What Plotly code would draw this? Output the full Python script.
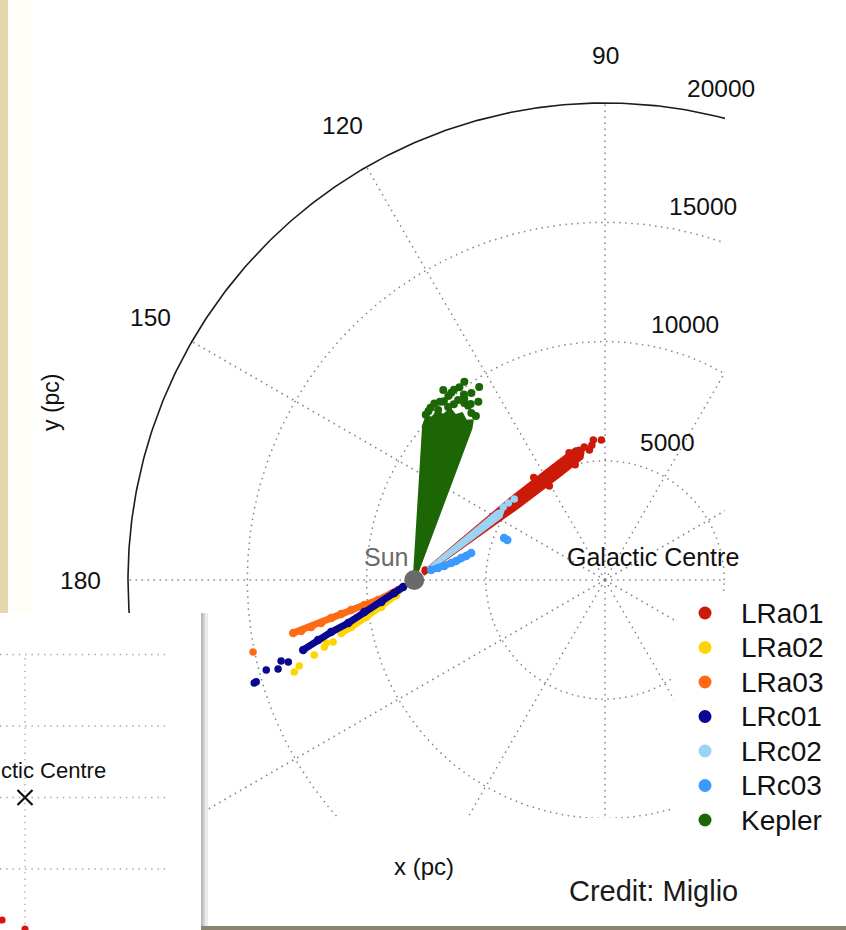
import numpy as np
import plotly.graph_objects as go

# ------------------------------------------------------------------
# Data.  Longitudes in degrees, distances from
# the Sun in kpc.  The frame is centred on the Galactic Centre.
# ------------------------------------------------------------------
R_SUN = 8000.0                      # pc, Sun - Galactic Centre distance
RING_RADII = [5000, 10000, 15000]   # dotted rings (pc)
OUTER_RADIUS = 20000                # solid outer ring (pc)
SPOKE_ANGLES = [0, 30, 60, 90, 120, 150, 180, 210, 240, 270, 300, 330]
ANGLE_LABELS = [90, 120, 150, 180]
RADIAL_LABELS = [5000, 10000, 15000, 20000]

FIELDS = ["LRa01", "LRa02", "LRa03", "LRc01", "LRc02", "LRc03", "Kepler"]
COLORS = ["#CC1A0A", "#FFD500", "#FF6A14", "#07078F", "#9BD3F4", "#3B9AFF", "#1D6606"]

# dense parts drawn as filled outlines
lra01_band_l = [44.0, 40.5, 40.3, 40.2, 39.5, 39.2, 37.6, 36.0, 35.6, 35.0, 34.5, 33.5, 30.0]
lra01_band_d = [0.45, 0.80, 2.50, 5.40, 7.50, 8.70, 8.95, 8.70, 7.50, 5.40, 2.50, 0.80, 0.45]
lrc02_band_l = [39.8, 39.8, 39.5, 38.2, 36.0, 35.2, 34.0]
lrc02_band_d = [0.75, 2.50, 4.50, 4.75, 4.50, 2.50, 0.75]
kepler_band_l = [77.0, 86.5, 85.5, 84.0, 82.0, 80.0, 78.0, 76.0, 74.0, 72.0, 70.0, 69.5, 77.0]
kepler_band_d = [0.0, 6.5, 6.9, 6.8, 7.1, 7.0, 7.3, 7.1, 7.25, 7.0, 7.1, 6.8, 0.0]

# dense thin streaks drawn as thick paths
lra02_path_l = [219.8, 219.3, 217.6, 216.7, 216.0]
lra02_path_d = [0.98, 1.79, 2.54, 3.30, 3.78]
lra03_path_l = [212.0, 211.3, 209.1, 206.6, 205.5, 205.0, 204.6, 204.8, 204.5, 204.3, 203.7]
lra03_path_d = [0.79, 1.13, 1.73, 2.34, 2.93, 3.38, 3.83, 4.30, 4.75, 5.20, 5.54]
lrc01_path_l = [212.5, 213.0, 213.7, 212.6, 213.1, 212.1, 212.0, 212.2]
lrc01_path_d = [0.55, 1.00, 1.66, 2.49, 3.30, 4.11, 4.75, 5.50]
lrc03_path_l = [30.5, 26.6, 25.0, 24.7, 24.3, 25.1, 24.8, 25.3]
lrc03_path_d = [0.83, 1.12, 1.39, 1.71, 1.93, 2.18, 2.40, 2.64]

# individual stars
lra01_pts_l = [36.8, 38.0, 38.0, 38.2, 37.2, 36.6, 39.4, 35.6, 40.6, 34.8, 42.0]
lra01_pts_d = [9.80, 9.53, 9.05, 8.80, 9.35, 9.15, 8.40, 8.30, 6.60, 6.90, 0.62]
lra02_pts_l = [217.4, 215.6, 216.7, 216.9, 216.8, 217.5]
lra02_pts_d = [4.28, 4.54, 4.70, 5.24, 6.02, 6.34]
lra03_pts_l = [204.1]
lra03_pts_d = [7.40]
lrc01_pts_l = [213.1, 211.3, 213.2, 211.3, 212.8, 212.8]
lrc01_pts_d = [6.30, 6.53, 6.82, 7.26, 7.98, 7.88]
lrc02_pts_l = [39.3, 39.0, 39.4]
lrc02_pts_d = [5.10, 5.40, 4.83]
lrc03_pts_l = [25.0, 23.3]
lrc03_pts_d = [4.16, 4.25]
kepler_pts_l = [75.8, 81.3, 71.4, 78.8, 73.0, 70.2, 74.2, 82.0, 78.9, 76.3,
                82.9, 71.1, 80.0, 84.6, 77.3, 72.8, 80.6, 75.0, 69.4, 86.0,
                83.5, 79.5, 76.8, 74.6, 72.2, 81.8, 78.2, 85.2]
kepler_pts_d = [8.57, 8.06, 8.54, 8.00, 8.20, 7.94, 7.71, 7.20, 7.39, 7.77,
                6.76, 7.40, 6.50, 7.25, 7.55, 7.65, 7.60, 8.05, 7.35, 6.95,
                7.45, 7.85, 8.30, 7.90, 7.75, 7.55, 8.15, 7.10]

# inset (second, partly hidden picture): grid values, GC and two stars
inset_grid_y = [4, 2, 0, -2]
inset_grid_x = [0]
inset_gc = (0, 0)
inset_red_x = [-0.64, 0.0]
inset_red_y = [-3.43, -3.68]

# ------------------------------------------------------------------
# Layout geometry (pixels)
# ------------------------------------------------------------------
W, H = 846, 930
GCX, GCY = 605, 580
K = 477.0 / 20000.0          # px per pc
PLOT_R, PLOT_B = 725, 818
FONT = "Liberation Sans, Arial, Helvetica, sans-serif"


def to_xy(l, d):
    l = np.radians(np.asarray(l, dtype=float))
    d = np.asarray(d, dtype=float) * 1000.0
    return -R_SUN + d * np.cos(l), d * np.sin(l)


fig = go.Figure()

# grid: dotted rings and spokes
theta = np.linspace(0, 2 * np.pi, 721)
gx, gy = [], []
for r in RING_RADII:
    gx += list(r * np.cos(theta)) + [None]
    gy += list(r * np.sin(theta)) + [None]
for a in SPOKE_ANGLES:
    ar = np.radians(a)
    gx += [0, OUTER_RADIUS * np.cos(ar), None]
    gy += [0, OUTER_RADIUS * np.sin(ar), None]
fig.add_trace(go.Scatter(x=gx, y=gy, mode="lines", showlegend=False, hoverinfo="skip",
                         line=dict(color="#858585", width=1.5, dash="1.5px,4.5px")))
fig.add_trace(go.Scatter(x=OUTER_RADIUS * np.cos(theta), y=OUTER_RADIUS * np.sin(theta),
                         mode="lines", showlegend=False, hoverinfo="skip",
                         line=dict(color="#1c1c1c", width=1.6)))

bands = {"LRa01": (lra01_band_l, lra01_band_d), "LRc02": (lrc02_band_l, lrc02_band_d),
         "Kepler": (kepler_band_l, kepler_band_d)}
paths = {"LRa02": (lra02_path_l, lra02_path_d), "LRa03": (lra03_path_l, lra03_path_d),
         "LRc01": (lrc01_path_l, lrc01_path_d), "LRc03": (lrc03_path_l, lrc03_path_d)}
points = {"LRa01": (lra01_pts_l, lra01_pts_d), "LRa02": (lra02_pts_l, lra02_pts_d),
          "LRa03": (lra03_pts_l, lra03_pts_d), "LRc01": (lrc01_pts_l, lrc01_pts_d),
          "LRc02": (lrc02_pts_l, lrc02_pts_d), "LRc03": (lrc03_pts_l, lrc03_pts_d),
          "Kepler": (kepler_pts_l, kepler_pts_d)}
pt_size = {"LRc03": 8.5, "Kepler": 8}

for name, col in zip(FIELDS, COLORS):
    if name in bands:
        bx, by = to_xy(*bands[name])
        fig.add_trace(go.Scatter(x=bx, y=by, mode="lines", fill="toself", fillcolor=col,
                                 line=dict(color=col, width=3), showlegend=False,
                                 hoverinfo="skip"))
    if name in paths:
        px_, py_ = to_xy(*paths[name])
        fig.add_trace(go.Scatter(x=px_, y=py_, mode="lines+markers",
                                 line=dict(color=col, width=7),
                                 marker=dict(color=col, size=8.5), showlegend=False,
                                 hoverinfo="skip"))
    sx, sy = to_xy(*points[name])
    fig.add_trace(go.Scatter(x=sx, y=sy, mode="markers", name=name, showlegend=False,
                             marker=dict(color=col, size=pt_size.get(name, 7.5))))

# the Sun
fig.add_trace(go.Scatter(x=[-R_SUN], y=[0], mode="markers", showlegend=False,
                         marker=dict(color="#6a6a6a", size=20), hoverinfo="skip"))

# inset picture (bottom-left)
ix, iy = [], []
for yv in inset_grid_y:
    ix += [-0.7, 3.97, None]
    iy += [yv, yv, None]
for xv in inset_grid_x:
    ix += [xv, xv, None]
    iy += [3.9, -3.8, None]
fig.add_trace(go.Scatter(x=ix, y=iy, mode="lines", xaxis="x2", yaxis="y2", showlegend=False,
                         hoverinfo="skip",
                         line=dict(color="#a0a0a0", width=1.3, dash="1.3px,5px")))
fig.add_trace(go.Scatter(x=[inset_gc[0]], y=[inset_gc[1]], mode="markers", xaxis="x2",
                         yaxis="y2", showlegend=False, hoverinfo="skip",
                         marker=dict(symbol="x-thin", size=15,
                                     line=dict(color="#111111", width=2.2))))
fig.add_trace(go.Scatter(x=inset_red_x, y=inset_red_y, mode="markers", xaxis="x2",
                         yaxis="y2", showlegend=False, hoverinfo="skip",
                         marker=dict(color="#dd1111", size=7)))

# legend, drawn on its own small axes (pixel units)
LEG_X0, LEG_X1, LEG_Y0, LEG_Y1 = 674, 846, 592, 830
LEG_MARK_X, LEG_TEXT_X, LEG_TOP, LEG_STEP = 705, 739, 613, 34.5
leg_y = [LEG_TOP + i * LEG_STEP for i in range(len(FIELDS))]
fig.add_trace(go.Scatter(x=[LEG_MARK_X] * len(FIELDS), y=leg_y, mode="markers",
                         xaxis="x3", yaxis="y3", showlegend=False, hoverinfo="skip",
                         marker=dict(color=COLORS, size=13)))

# ------------------------------------------------------------------
# Text
# ------------------------------------------------------------------
ann = []
for a in ANGLE_LABELS:
    ar = np.radians(a)
    ann.append(dict(x=1.1 * OUTER_RADIUS * np.cos(ar), y=1.1 * OUTER_RADIUS * np.sin(ar),
                    text=str(a), showarrow=False, font=dict(size=24.5, color="#111")))
LAB_ANG = np.radians(81.3)
for r in RADIAL_LABELS:
    ann.append(dict(x=r * np.cos(LAB_ANG), y=r * np.sin(LAB_ANG), text=str(r),
                    showarrow=False, xshift=44, yshift=20, font=dict(size=24.5, color="#111")))
ann.append(dict(x=0, y=0, text="Galactic Centre", showarrow=False, xshift=48, yshift=23,
                font=dict(size=25, color="#111")))
ann.append(dict(x=-R_SUN, y=0, text="Sun", showarrow=False, xshift=-28, yshift=23,
                font=dict(size=25, color="#6b6b6b")))
for name, yv in zip(FIELDS, leg_y):
    ann.append(dict(xref="x3", yref="y3", x=LEG_TEXT_X, y=yv, text=name, xanchor="left",
                    yanchor="middle", showarrow=False, font=dict(size=28, color="#111")))
ann.append(dict(xref="paper", yref="paper", x=424 / W, y=1 - 866 / H, text="x (pc)",
                xanchor="center", yanchor="middle", showarrow=False,
                font=dict(size=24, color="#111")))
ann.append(dict(xref="paper", yref="paper", x=51 / W, y=1 - 402 / H, text="y (pc)",
                xanchor="center", yanchor="middle", textangle=-90, showarrow=False,
                font=dict(size=23, color="#111")))
ann.append(dict(xref="paper", yref="paper", x=653 / W, y=1 - 891 / H, text="Credit: Miglio",
                xanchor="center", yanchor="middle", showarrow=False,
                font=dict(size=29, color="#1a1a1a")))
ann.append(dict(xref="paper", yref="paper", x=-1 / W, y=1 - 770 / H, xanchor="left",
                yanchor="middle", text="ctic Centre", showarrow=False,
                font=dict(size=22, color="#111")))

# ------------------------------------------------------------------
# Decorations of the screenshot
# ------------------------------------------------------------------
def prect(x0, y0, x1, y1, color, layer="above"):
    return dict(type="rect", xref="paper", yref="paper", x0=x0 / W, x1=x1 / W,
                y0=1 - y1 / H, y1=1 - y0 / H, fillcolor=color, line=dict(width=0),
                layer=layer)

shapes = [
    prect(0, 0, 8, 613, "#E3D7AC"),              # slide border
    prect(8, 0, 33, 613, "#FEFDF8"),
    prect(201, 613, 203, 926, "#b9b9b9"),        # inset shadow
    prect(203, 613, 205, 926, "#d4d4d4"),
    prect(205, 613, 208, 926, "#ececec"),
    prect(201, 926, 846, 930, "#8a846e"),        # bottom border
]

fig.update_layout(
    width=W, height=H, autosize=False,
    margin=dict(l=0, r=0, t=0, b=0, pad=0),
    paper_bgcolor="white", plot_bgcolor="white",
    font=dict(family=FONT, color="#111"),
    showlegend=False,
    xaxis=dict(domain=[0, PLOT_R / W], range=[(0 - GCX) / K, (PLOT_R - GCX) / K],
               visible=False, fixedrange=True),
    yaxis=dict(domain=[1 - PLOT_B / H, 1], range=[-(PLOT_B - GCY) / K, GCY / K],
               visible=False, fixedrange=True),
    xaxis2=dict(domain=[0, 201 / W], range=[(0 - 25) / 35.75, (201 - 25) / 35.75],
                anchor="y2", visible=False, fixedrange=True),
    yaxis2=dict(domain=[0, (H - 613) / H], range=[(797.5 - 930) / 35.75, (797.5 - 613) / 35.75],
                anchor="x2", visible=False, fixedrange=True),
    xaxis3=dict(domain=[LEG_X0 / W, LEG_X1 / W], range=[LEG_X0, LEG_X1],
                anchor="y3", visible=False, fixedrange=True),
    yaxis3=dict(domain=[1 - LEG_Y1 / H, 1 - LEG_Y0 / H], range=[LEG_Y1, LEG_Y0],
                anchor="x3", visible=False, fixedrange=True),
    annotations=ann,
    shapes=shapes,
)

fig.write_html("out.html")
